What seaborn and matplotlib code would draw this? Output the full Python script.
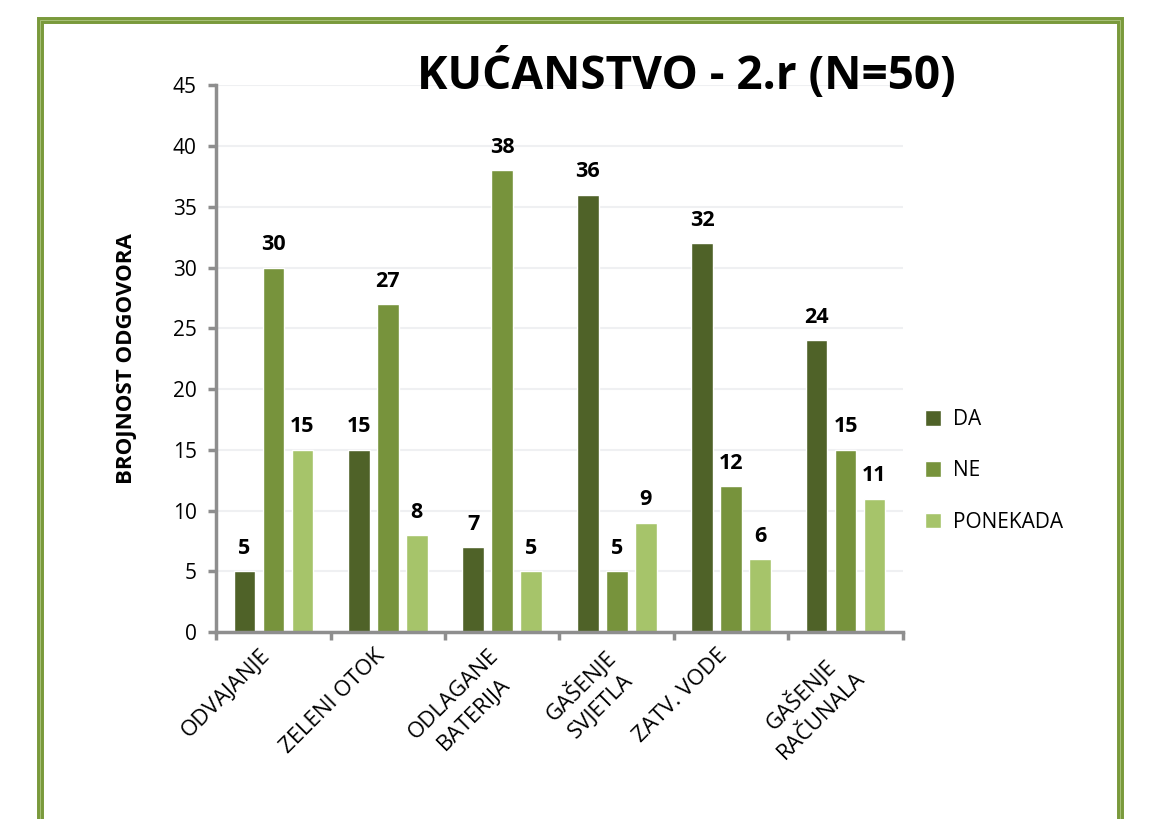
import numpy as np
import pandas as pd
import matplotlib
matplotlib.use("Agg")
import matplotlib.pyplot as plt
import matplotlib.patches as patches
import matplotlib.transforms as mtransforms
import seaborn as sns

# Data
categories = ["ODVAJANJE", "ZELENI OTOK", "ODLAGANE\nBATERIJA",
              "GAŠENJE\nSVJETLA", "ZATV. VODE", "GAŠENJE\nRAČUNALA"]
da = [5, 15, 7, 36, 32, 24]
ne = [30, 27, 38, 5, 12, 15]
ponekada = [15, 8, 5, 9, 6, 11]
series_names = ["DA", "NE", "PONEKADA"]
colors = ["#4F6228", "#77933C", "#A6C46A"]

df = pd.DataFrame({
    "kategorija": categories * 3,
    "odgovor": [s for s in series_names for _ in categories],
    "broj": da + ne + ponekada,
})

sns.set_style("white")
plt.rcParams["font.family"] = ["Open Sans", "DejaVu Sans"]
plt.rcParams["text.color"] = "black"
plt.rcParams["axes.labelcolor"] = "black"
plt.rcParams["xtick.color"] = "black"
plt.rcParams["ytick.color"] = "black"

fig = plt.figure(figsize=(11.5, 8.19), dpi=100)
ax = fig.add_axes([0.188, 0.228, 0.597, 0.668])

sns.barplot(data=df, x="kategorija", y="broj", hue="odgovor",
            palette=colors, width=0.76, gap=0.25, ax=ax,
            order=categories, hue_order=series_names, saturation=1)

for c in ax.containers:
    ax.bar_label(c, fontsize=15.5, fontweight="bold", padding=9)

ax.set_ylim(0, 45)
ax.set_yticks(range(0, 50, 5))
ax.set_xlim(-0.5, 5.5)
ax.yaxis.grid(True, color="#EFF0F2", linewidth=1.5)
ax.set_axisbelow(True)

for s in ["top", "right"]:
    ax.spines[s].set_visible(False)
for s in ["left", "bottom"]:
    ax.spines[s].set_color("#8E8E8E")
    ax.spines[s].set_linewidth(2.5)

ax.tick_params(axis="y", length=6, width=2.5, color="#8E8E8E",
               labelsize=15, pad=8, left=True)
ax.set_xticks(np.arange(-0.5, 6, 1), minor=True)
ax.tick_params(axis="x", which="minor", length=6, width=2.5,
               color="#8E8E8E", bottom=True)
ax.tick_params(axis="x", which="major", length=0, labelsize=16, pad=9)
shift = mtransforms.ScaledTranslation(-14 / 100, 0, fig.dpi_scale_trans)
for lbl in ax.get_xticklabels():
    lbl.set_rotation(45)
    lbl.set_ha("right")
    lbl.set_rotation_mode("anchor")
    lbl.set_multialignment("center")
    lbl.set_linespacing(1.45)
    lbl.set_transform(lbl.get_transform() + shift)

ax.set_xlabel("")
ax.set_ylabel("BROJNOST ODGOVORA", fontsize=16, fontweight="bold",
              labelpad=26)

ax.legend(frameon=False, loc="center left", bbox_to_anchor=(1.005, 0.295),
          fontsize=15, handlelength=0.75, handleheight=0.75,
          labelspacing=1.45, handletextpad=0.6)

fig.text(0.597, 0.91, "KUĆANSTVO - 2.r (N=50)", fontsize=33,
         fontweight="bold", ha="center", va="center")

# green frame around the chart
box = dict(xy=(40 / 1150, -0.05), width=1080 / 1150, height=1.05 - 20 / 819,
           transform=fig.transFigure, fill=False, clip_on=False)
fig.patches.append(patches.Rectangle(edgecolor="#7A9A3C", linewidth=5, **box))
fig.patches.append(patches.Rectangle(edgecolor="#A9C27A", linewidth=0.7, **box))

fig.savefig("out.png", dpi=100)
